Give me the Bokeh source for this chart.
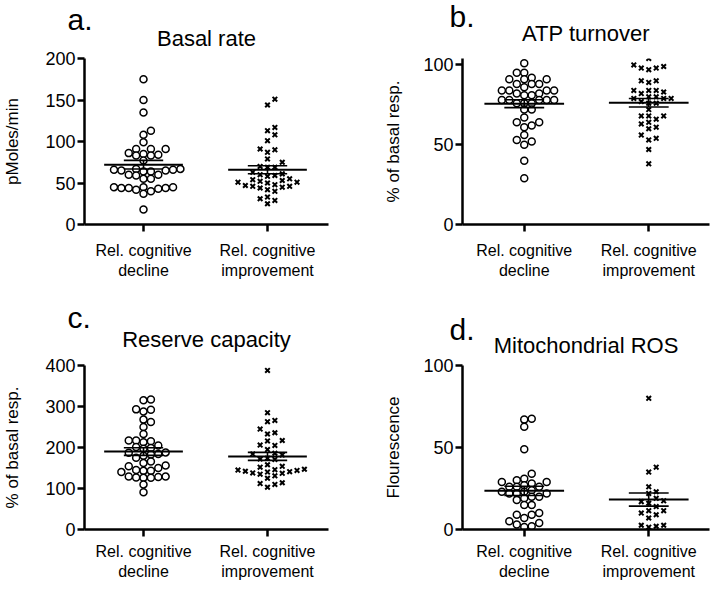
import numpy as np
from bokeh.plotting import figure
from bokeh.models import Range1d, FixedTicker, Label
from bokeh.layouts import gridplot
from bokeh.embed import file_html
from bokeh.resources import INLINE

# ---------------- data ----------------
group_labels = ["Rel. cognitive\ndecline", "Rel. cognitive\nimprovement"]
group_pos = [1, 2]

panel_letters = ["a.", "b.", "c.", "d."]
panel_titles = ["Basal rate", "ATP turnover", "Reserve capacity", "Mitochondrial ROS"]
y_labels = ["pMoles/min", "% of basal resp.", "% of basal resp.", "Flourescence"]

basal_ticks = [0, 50, 100, 150, 200]
atp_ticks = [0, 50, 100]
reserve_ticks = [0, 100, 200, 300, 400]
ros_ticks = [0, 50, 100]

basal_decline = [175, 150, 135, 113, 108, 99, 91, 91, 91, 86, 84, 83, 83, 85, 77,
                 67, 66, 65, 64, 64, 65, 66, 67, 60, 59, 60, 55, 55,
                 45, 45, 44, 44, 43, 42, 40, 37, 44, 45, 18]
basal_improve = [151, 144, 117, 113, 108, 101, 91, 90, 87, 79, 75, 70, 69, 69, 63,
                 61, 60, 59, 58, 55, 54, 53, 52, 51, 51, 50, 48, 47, 46, 46, 45, 44,
                 42, 40, 33, 31, 29, 25]

atp_decline = [101, 95, 95, 92, 91, 91, 91, 88, 88, 86, 88, 84, 84, 82, 81, 81, 82, 84, 84,
               78, 78, 78, 78, 78, 76, 76, 76, 72, 72, 67, 64, 62, 61, 64, 56, 53, 52, 50, 40, 29]
atp_improve = [104, 100, 99, 98, 97, 98, 90, 89, 90, 84, 83, 82, 84, 84, 80, 79, 79, 79, 80,
               76, 77, 76, 72, 68, 68, 68, 66, 64, 61, 60, 63, 56, 53, 54, 47, 38]

reserve_decline = [315, 317, 292, 288, 293, 262, 268, 250, 233, 217, 213, 215, 217, 205, 199,
                   197, 201, 188, 183, 187, 184, 175, 180, 162, 154, 156, 166, 145, 140, 150,
                   143, 143, 129, 126, 126, 129, 128, 127, 110, 91]
reserve_improve = [388, 285, 266, 263, 245, 236, 233, 217, 216, 206, 205, 195, 186, 184, 182,
                   174, 172, 171, 158, 154, 152, 147, 146, 145, 144, 142, 141, 140, 138, 137,
                   135, 131, 125, 114, 112, 110, 103]

ros_decline = [67.5, 67, 62.6, 49, 34, 31, 30, 29, 29, 28, 27, 26, 26, 26, 24, 23, 23, 22, 22,
               22, 20, 20, 19, 18, 15, 15, 10, 9, 9, 7, 5, 4, 3, 2, 1.5]
ros_improve = [80, 38, 35, 26, 23, 22, 19, 17.5, 17, 16, 14, 11.5, 11.5, 10, 9, 7,
               2.6, 2.6, 2, 1.4]

panel_data = [(basal_decline, basal_improve), (atp_decline, atp_improve),
              (reserve_decline, reserve_improve), (ros_decline, ros_improve)]
panel_ticks = [basal_ticks, atp_ticks, reserve_ticks, ros_ticks]

# ---------------- layout / style ----------------
FONT = "Liberation Sans"
# rows share top/bottom borders (gridplot aligns frames), columns share left/right borders
layouts = [
    dict(w=356, h=290, bl=80, br=28, bt=58, bb=66, x0=0.524, x1=2.492, ymax=200, ts=16,
         lside="right", lx=-261, ly=205.5, ys=20, xs=10),
    dict(w=356, h=290, bl=105, br=3, bt=58, bb=66, x0=0.504, x1=2.488, ymax=104, ts=25,
         lside="left", lx=93, ly=208.5, ys=17, xs=10),
    dict(w=356, h=301, bl=80, br=28, bt=75, bb=62, x0=0.524, x1=2.492, ymax=400, ts=27,
         lside="right", lx=-261, ly=212.5, ys=20, xs=6),
    dict(w=356, h=301, bl=105, br=3, bt=75, bb=62, x0=0.504, x1=2.488, ymax=100, ts=15,
         lside="left", lx=93, ly=200.5, ys=17, xs=6),
]


def swarm_x(vals, center, xppu, yppu, step_px=7.5, min_dy_px=6.0):
    vals = np.asarray(vals, float)
    order = np.argsort(vals, kind="stable")
    slots = [0]
    for k in range(1, 40):
        slots += [k, -k]
    placed = []
    xs = np.empty(len(vals))
    for i in order:
        ypx = vals[i] * yppu
        chosen = 0
        for s in slots:
            if all(not (ps == s and abs(py - ypx) < min_dy_px) for ps, py in placed):
                chosen = s
                break
        placed.append((chosen, ypx))
        xs[i] = center + chosen * step_px / xppu
    return xs


def make_panel(k):
    L = layouts[k]
    p = figure(width=L["w"], height=L["h"], output_backend="svg", toolbar_location=None,
               x_range=Range1d(L["x0"], L["x1"]), y_range=Range1d(0, L["ymax"]),
               min_border_left=L["bl"], min_border_right=L["br"],
               min_border_top=L["bt"], min_border_bottom=L["bb"])
    p.background_fill_color = "white"
    p.border_fill_color = "white"
    p.outline_line_color = None
    p.xgrid.visible = False
    p.ygrid.visible = False

    fw = L["w"] - L["bl"] - L["br"]
    fh = L["h"] - L["bt"] - L["bb"]
    xppu = fw / (L["x1"] - L["x0"])
    yppu = fh / L["ymax"]

    dec, imp = panel_data[k]
    for gi, vals in enumerate((dec, imp)):
        c = group_pos[gi]
        xs = swarm_x(vals, c, xppu, yppu)
        if gi == 0:
            p.scatter(xs, vals, marker="circle", size=7, fill_color="white",
                      line_color="black", line_width=1.5)
        else:
            p.scatter(xs, vals, marker="x", size=6.5, line_color="black", line_width=2)
        v = np.asarray(vals, float)
        m = v.mean()
        sem = v.std(ddof=1) / np.sqrt(len(v))
        hw_mean = 40 / xppu
        hw_sem = 20 / xppu
        p.segment(x0=[c - hw_mean], x1=[c + hw_mean], y0=[m], y1=[m],
                  line_color="black", line_width=2)
        p.segment(x0=[c - hw_sem, c - hw_sem], x1=[c + hw_sem, c + hw_sem],
                  y0=[m - sem, m + sem], y1=[m - sem, m + sem],
                  line_color="black", line_width=1.6)
        p.segment(x0=[c], x1=[c], y0=[m - sem], y1=[m + sem],
                  line_color="black", line_width=1.6)

    p.title.text = panel_titles[k]
    p.title.align = "center"
    p.title.standoff = L["ts"]
    p.title.text_font = FONT
    p.title.text_font_size = "22px"
    p.title.text_font_style = "normal"
    p.title.text_color = "black"

    # axes
    for ax in (p.xaxis[0], p.yaxis[0]):
        ax.axis_line_width = 2.5
        ax.axis_line_color = "black"
        ax.major_tick_line_width = 2.5
        ax.major_tick_line_color = "black"
        ax.major_tick_in = 0
        ax.major_tick_out = 7
        ax.minor_tick_in = 0
        ax.minor_tick_out = 0
        ax.major_label_text_color = "black"
        ax.major_label_text_font = FONT

    p.xaxis.ticker = FixedTicker(ticks=group_pos)
    p.xaxis.major_label_overrides = {group_pos[0]: group_labels[0], group_pos[1]: group_labels[1]}
    p.xaxis.major_label_text_font_size = "16px"
    p.xaxis.major_label_standoff = L["xs"]

    p.yaxis.ticker = FixedTicker(ticks=panel_ticks[k])
    p.yaxis.major_label_text_font_size = "18px"
    p.yaxis.major_label_standoff = 2
    p.yaxis.axis_label = y_labels[k]
    p.yaxis.axis_label_text_font = FONT
    p.yaxis.axis_label_text_font_size = "17px"
    p.yaxis.axis_label_text_font_style = "normal"
    p.yaxis.axis_label_text_color = "black"
    p.yaxis.axis_label_standoff = L["ys"]

    # panel letter, placed in a side panel so that it is drawn outside the plot frame
    p.add_layout(Label(x=L["lx"], y=L["ly"], x_units="screen", y_units="screen",
                       text=panel_letters[k], text_font=FONT, text_font_size="30px",
                       text_color="black", text_align="left",
                       text_baseline="alphabetic"), L["lside"])
    return p


figs = [make_panel(k) for k in range(4)]
grid = gridplot([[figs[0], figs[1]], [figs[2], figs[3]]], toolbar_location=None)

open("out.html", "w").write(file_html(grid, INLINE))
